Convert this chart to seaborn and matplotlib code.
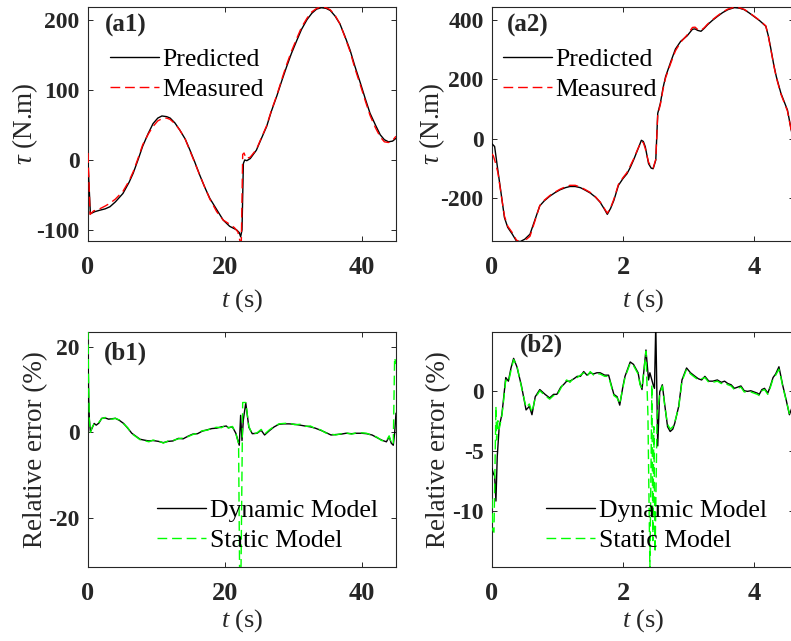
import numpy as np
import pandas as pd
import matplotlib
matplotlib.use("Agg")
import matplotlib.pyplot as plt
import seaborn as sns
from matplotlib.lines import Line2D

# ---------------- data ----------------
# (a1) torque, joint 1
a1_pred_t = [0.0, 0.35, 1.0, 1.7, 2.5, 3.2, 4.0, 5.1, 6.0, 6.6, 7.3, 8.0, 8.8, 9.5, 10.2, 10.8,
             11.5, 12.0, 12.7, 13.4, 14.2, 14.9, 15.6, 16.3, 17.1, 17.8, 18.8, 19.75, 20.7, 21.7,
             22.1, 22.3, 22.5, 22.7, 22.9, 23.2, 23.7, 24.6, 25.3, 26.1, 26.8, 27.6, 28.3, 29.0,
             29.7, 30.5, 31.2, 32.0, 32.7, 33.4, 34.1, 34.8, 35.4, 36.1, 36.8, 37.5, 38.3, 39.0,
             39.8, 40.5, 41.2, 42.0, 42.7, 43.3, 43.9, 44.5, 45.0]
a1_pred_v = [-5, -77, -74, -72, -70, -67, -60, -48, -32, -19, 0, 20, 38, 52, 60, 63,
             62, 60, 53, 43, 30, 14, -3, -21, -40, -55, -71, -86, -95, -100,
             -104, -110, -100, -5, 0, -1, 2, 14, 30, 48, 70, 92, 113, 133,
             152, 171, 187, 201, 210, 216, 218, 217, 214, 206, 195, 178, 157, 134,
             110, 88, 67, 50, 36, 29, 26, 27, 31]
a1_meas_t = [0.0, 0.3, 0.8, 1.7, 2.5, 3.2, 4.0, 5.1, 6.0, 6.6, 7.3, 8.0, 8.8, 9.5, 10.2, 10.8,
             11.5, 12.0, 12.7, 13.4, 14.2, 14.9, 15.6, 16.3, 17.1, 17.8, 18.8, 19.75, 20.7, 21.4,
             21.9, 22.2, 22.4, 22.6, 22.8, 23.1, 23.7, 24.6, 25.3, 26.1, 26.8, 27.6, 28.3, 29.0,
             29.7, 30.5, 31.2, 32.0, 32.7, 33.4, 34.1, 34.8, 35.4, 36.1, 36.8, 37.5, 38.3, 39.0,
             39.8, 40.5, 41.2, 42.0, 42.7, 43.3, 43.9, 44.5, 45.0]
a1_meas_v = [10, -78, -73, -70, -66, -62, -56, -45, -30, -17, 2, 22, 37, 48, 56, 59,
             60, 58, 52, 43, 30, 13, -4, -21, -40, -56, -74, -86, -92, -97,
             -103, -116, -118, 8, 10, 2, 4, 15, 31, 49, 71, 93, 115, 136,
             155, 174, 190, 203, 212, 217, 219, 218, 215, 207, 195, 177, 155, 131,
             107, 85, 64, 46, 33, 26, 25, 28, 34]

# (a2) torque, joint 2
a2_pred_t = [0.0, 0.04, 0.09, 0.14, 0.19, 0.24, 0.31, 0.37, 0.43, 0.5, 0.58, 0.65, 0.73, 0.8, 0.88,
             0.96, 1.04, 1.12, 1.19, 1.27, 1.35, 1.42, 1.5, 1.58, 1.65, 1.72, 1.76, 1.81, 1.86, 1.93,
             2.0, 2.06, 2.11, 2.16, 2.22, 2.28, 2.31, 2.34, 2.39, 2.43, 2.46, 2.5, 2.53, 2.57, 2.61,
             2.65, 2.73, 2.8, 2.88, 2.98, 3.06, 3.1, 3.14, 3.19, 3.24, 3.29, 3.36, 3.44, 3.52, 3.6,
             3.7, 3.78, 3.85, 3.92, 4.0, 4.09, 4.18, 4.22, 4.26, 4.3, 4.34, 4.41, 4.51, 4.58, 4.61]
a2_pred_v = [-18, -27, -108, -187, -267, -300, -323, -345, -348, -340, -323, -278, -227, -210, -195,
             -183, -173, -166, -162, -162, -166, -174, -184, -198, -215, -240, -256, -236, -209, -158,
             -135, -119, -98, -73, -40, -6, -10, -28, -85, -100, -102, -73, 85, 119, 170,
             209, 260, 302, 328, 347, 369, 370, 365, 362, 372, 384, 398, 412, 425, 435,
             442, 440, 435, 425, 412, 397, 379, 345, 299, 250, 209, 153, 96, 15, -5]
a2_meas_t = [0.0, 0.02, 0.05, 0.09, 0.14, 0.19, 0.24, 0.31, 0.37, 0.43, 0.5, 0.58, 0.65, 0.73, 0.8,
             0.88, 0.96, 1.04, 1.12, 1.19, 1.27, 1.35, 1.42, 1.5, 1.58, 1.65, 1.72, 1.76, 1.81, 1.86,
             1.93, 2.0, 2.06, 2.11, 2.16, 2.22, 2.28, 2.31, 2.34, 2.39, 2.43, 2.46, 2.5, 2.53, 2.57,
             2.61, 2.65, 2.73, 2.8, 2.88, 2.98, 3.06, 3.1, 3.14, 3.19, 3.24, 3.29, 3.36, 3.44, 3.52,
             3.6, 3.7, 3.78, 3.85, 3.92, 4.0, 4.09, 4.18, 4.22, 4.26, 4.3, 4.34, 4.41, 4.51, 4.58, 4.61]
a2_meas_v = [-52, -58, -80, -115, -190, -262, -296, -318, -342, -352, -345, -330, -282, -226, -208,
             -193, -181, -171, -163, -158, -158, -164, -172, -182, -197, -214, -238, -252, -234, -205,
             -155, -132, -115, -93, -70, -38, -10, -14, -34, -80, -96, -100, -70, 80, 115,
             165, 205, 255, 296, 325, 350, 375, 376, 368, 365, 374, 386, 400, 414, 427,
             437, 443, 441, 436, 426, 413, 398, 380, 343, 296, 248, 206, 150, 93, 13, -7]

# (b1) relative error, joint 1
b1_dyn_t = [0.0, 0.1, 0.2, 0.35, 0.6, 0.9, 1.2, 1.6, 2.0, 2.5, 3.0, 3.5, 4.0, 4.6, 5.2, 5.8, 6.4,
            7.0, 7.6, 8.2, 8.9, 9.5, 10.3, 11.0, 11.7, 12.4, 13.2, 13.9, 14.6, 15.3, 16.0, 16.7,
            17.4, 18.1, 18.8, 19.5, 20.2, 20.5, 21.1, 21.6, 22.1, 22.3, 22.5, 22.7, 23.05, 23.5,
            24.0, 24.7, 25.3, 25.8, 26.5, 27.2, 27.9, 28.6, 29.4, 30.2, 31.0, 31.7, 32.5, 33.2,
            34.0, 34.7, 35.5, 36.2, 37.0, 37.7, 38.5, 39.2, 40.0, 40.7, 41.5, 42.2, 42.9, 43.6,
            44.0, 44.3, 44.6, 44.8, 45.0]
b1_dyn_v = [18.0, 8.0, 2.9, 0.2, 1.0, 2.1, 1.7, 2.2, 3.3, 3.4, 3.1, 3.2, 3.3, 2.8, 2.1, 1.0, -0.2,
            -0.9, -1.6, -1.8, -2.0, -1.9, -2.1, -2.4, -2.1, -2.0, -1.4, -1.5, -0.9, -0.4, -0.3, 0.3,
            0.6, 0.9, 1.0, 1.3, 1.5, 1.1, 1.3, -0.2, -3.0, 4.0, -1.9, 3.0, 6.9, 1.2,
            -0.3, -0.2, 0.5, -0.6, 0.4, 1.3, 1.9, 2.0, 2.0, 1.9, 1.7, 1.5, 1.3, 1.0,
            0.5, 0.0, -0.6, -0.5, -0.4, -0.2, -0.3, -0.2, -0.2, -0.3, -0.6, -1.2, -1.8, -2.2,
            -1.0, -2.5, -3.0, -0.2, 4.5]
b1_sta_t = [0.0, 0.1, 0.2, 0.35, 0.6, 0.9, 1.2, 1.6, 2.0, 2.5, 3.0, 3.5, 4.0, 4.6, 5.2, 5.8, 6.4,
            7.0, 7.6, 8.2, 8.9, 9.5, 10.3, 11.0, 11.7, 12.4, 13.2, 13.9, 14.6, 15.3, 16.0, 16.7,
            17.4, 18.1, 18.8, 19.5, 20.2, 20.5, 21.1, 21.6, 22.0, 22.15, 22.35, 22.6, 23.05, 23.5,
            24.0, 24.7, 25.3, 25.8, 26.5, 27.2, 27.9, 28.6, 29.4, 30.2, 31.0, 31.7, 32.5, 33.2,
            34.0, 34.7, 35.5, 36.2, 37.0, 37.7, 38.5, 39.2, 40.0, 40.7, 41.5, 42.2, 42.9, 43.6,
            44.0, 44.3, 44.6, 44.8, 45.0]
b1_sta_v = [24.0, 10.0, 3.0, 0.0, 1.2, 2.0, 1.9, 2.4, 3.2, 3.5, 3.2, 3.1, 3.3, 2.9, 2.0, 1.1, -0.3,
            -1.0, -1.7, -1.9, -2.2, -1.8, -2.0, -2.5, -2.0, -1.9, -1.5, -1.3, -1.0, -0.5, -0.2, 0.4,
            0.5, 1.0, 1.2, 1.1, 1.8, 1.0, 1.4, -0.3, -2.6, -33.0, -33.0, 7.0, 7.0, 1.4,
            -0.4, -0.1, 0.7, -0.4, 0.6, 1.4, 2.0, 2.1, 2.2, 1.8, 1.9, 1.4, 1.5, 0.9,
            0.6, -0.1, -0.4, -0.6, -0.3, -0.1, -0.4, -0.1, -0.1, -0.2, -0.7, -1.1, -1.9, -2.0,
            -0.8, -2.4, -2.8, 17.5, 16.0]

# (b2) relative error, joint 2
b2_dyn_t = [0.0, 0.02, 0.04, 0.06, 0.08, 0.11, 0.15, 0.17, 0.21, 0.25, 0.29, 0.33, 0.38, 0.45,
            0.52, 0.57, 0.61, 0.66, 0.73, 0.81, 0.88, 0.94, 0.99, 1.05, 1.09, 1.14, 1.19, 1.25,
            1.3, 1.35, 1.4, 1.45, 1.5, 1.55, 1.6, 1.65, 1.72, 1.78, 1.82, 1.86, 1.91, 1.95, 2.0,
            2.03, 2.07, 2.11, 2.16, 2.21, 2.23, 2.26, 2.29, 2.35, 2.39, 2.41, 2.44, 2.46, 2.48,
            2.5, 2.53, 2.56, 2.6, 2.64, 2.68, 2.72, 2.76, 2.79, 2.85, 2.9, 2.97, 3.03, 3.1, 3.15,
            3.2, 3.25, 3.31, 3.37, 3.44, 3.5, 3.55, 3.6, 3.65, 3.7, 3.75, 3.8, 3.85, 3.9, 3.95,
            4.0, 4.05, 4.08, 4.12, 4.16, 4.21, 4.25, 4.29, 4.33, 4.38, 4.41, 4.44, 4.49, 4.54,
            4.58, 4.61]
b2_dyn_v = [-6.5, -6.9, -7.1, -9.2, -5.5, -3.0, -2.0, -1.0, 1.1, 0.8, 1.9, 2.7, 2.0, 0.4,
            -1.6, -1.3, -2.0, -0.5, 0.1, -0.3, -0.6, -0.3, -0.3, 0.3, 0.5, 0.8, 0.8, 1.0,
            1.2, 1.2, 1.6, 1.3, 1.5, 1.4, 1.5, 1.5, 1.3, 1.3, 0.5, -0.3, -0.5, -1.2, 0.4,
            1.2, 1.8, 2.4, 2.2, 1.7, 1.5, 0.6, 0.1, 3.4, 0.9, 1.5, 0.9, 0.5, 0.2,
            5.5, -4.6, -0.1, 0.5, -1.3, -3.0, -3.4, -3.2, -2.7, -1.3, 0.9, 1.9, 1.5, 1.2, 1.0,
            0.9, 1.2, 0.8, 0.8, 0.9, 0.7, 0.8, 0.6, 0.5, 0.2, 0.3, 0.4, 0.0, -0.05, 0.0,
            -0.1, -0.2, -0.3, 0.1, 0.2, -0.2, 0.4, 1.1, 1.4, 2.0, 1.2, 0.4, -0.75, -2.0,
            -1.4, -1.6]
b2_sta_t = [0.0, 0.01, 0.03, 0.06, 0.07, 0.09, 0.11, 0.15, 0.17, 0.21, 0.25, 0.29, 0.33, 0.38, 0.45,
            0.52, 0.57, 0.61, 0.66, 0.73, 0.81, 0.88, 0.94, 0.99, 1.05, 1.09, 1.14, 1.19, 1.25,
            1.3, 1.35, 1.4, 1.45, 1.5, 1.55, 1.6, 1.65, 1.72, 1.78, 1.82, 1.86, 1.91, 1.95, 2.0,
            2.03, 2.07, 2.11, 2.16, 2.21, 2.23, 2.26, 2.29, 2.35, 2.38, 2.41, 2.43, 2.44, 2.455,
            2.47, 2.49, 2.52, 2.56, 2.6, 2.64, 2.68, 2.72, 2.76, 2.79, 2.85, 2.9, 2.97, 3.03, 3.1,
            3.15, 3.2, 3.25, 3.31, 3.37, 3.44, 3.5, 3.55, 3.6, 3.65, 3.7, 3.75, 3.8, 3.85, 3.9,
            3.95, 4.0, 4.05, 4.08, 4.12, 4.16, 4.21, 4.25, 4.29, 4.33, 4.38, 4.41, 4.44, 4.49,
            4.54, 4.58, 4.61]
b2_sta_v = [-9.0, -11.6, -11.8, -1.3, -4.1, -2.5, -3.2, -2.1, -1.2, 0.9, 0.7, 1.7, 2.6, 2.1, 0.3,
            -1.4, -1.1, -1.8, -0.6, 0.0, -0.4, -0.7, -0.4, -0.4, 0.2, 0.6, 0.9, 0.7, 1.1,
            1.1, 1.3, 1.5, 1.2, 1.6, 1.3, 1.4, 1.4, 1.2, 1.2, 0.4, -0.4, -0.6, -1.1, 0.3,
            1.1, 1.7, 2.3, 2.1, 1.6, 1.4, 0.5, 0.2, 3.3, -2.0, -14.8, -5.0, 0.5, -12.5,
            -3.0, -13.5, -2.0, -0.3, 0.4, -1.4, -2.8, -3.2, -3.0, -2.6, -1.4, 0.8, 1.8, 1.4, 1.1,
            0.9, 1.0, 1.1, 0.7, 0.7, 0.8, 0.6, 0.7, 0.5, 0.4, 0.1, 0.2, 0.3, -0.1, -0.1,
            -0.1, -0.2, -0.3, -0.4, 0.0, 0.1, -0.3, 0.3, 1.0, 1.3, 1.8, 1.1, 0.3, -0.8,
            -1.9, -1.5, -1.6]

panel_labels = ["(a1)", "(a2)", "(b1)", "(b2)"]
legend_a = ["Predicted", "Measured"]
legend_b = ["Dynamic Model", "Static Model"]
a1_xticks, a1_yticks = [0, 20, 40], [-100, 0, 100, 200]
a2_xticks, a2_yticks = [0, 2, 4], [-200, 0, 200, 400]
b1_xticks, b1_yticks = [0, 20, 40], [-20, 0, 20]
b2_xticks, b2_yticks = [0, 2, 4], [-10, -5, 0]

# ---------------- style ----------------
sns.set_style("white")
plt.rcParams['font.family'] = ['Liberation Serif', 'DejaVu Serif']
plt.rcParams['mathtext.fontset'] = 'custom'
plt.rcParams['mathtext.rm'] = 'Liberation Serif'
plt.rcParams['mathtext.it'] = 'Liberation Serif:italic'
plt.rcParams['axes.unicode_minus'] = False

TXT = '#262626'
W, H = 791, 641
fig = plt.figure(figsize=(W / 100, H / 100), dpi=100)


def px_axes(x0, x1, ytop, ybot):
    return fig.add_axes([x0 / W, 1 - ybot / H, (x1 - x0) / W, (ybot - ytop) / H])


ax_a1 = px_axes(88, 396, 7, 241)
ax_a2 = px_axes(492, 794, 7, 241)
ax_b1 = px_axes(88, 396, 332, 567)
ax_b2 = px_axes(492, 794, 332, 567)


def draw(ax, t1, v1, c1, t2, v2, c2):
    d1 = pd.DataFrame({'t': t1, 'v': v1})
    d2 = pd.DataFrame({'t': t2, 'v': v2})
    sns.lineplot(data=d1, x='t', y='v', ax=ax, color=c1, estimator=None, sort=False,
                 lw=1.0, zorder=3)
    sns.lineplot(data=d2, x='t', y='v', ax=ax, color=c2, estimator=None, sort=False,
                 lw=1.0, zorder=4)
    ax.lines[-1].set_dashes((7, 3.5))


draw(ax_a1, a1_pred_t, a1_pred_v, 'black', a1_meas_t, a1_meas_v, '#ff0000')
draw(ax_a2, a2_pred_t, a2_pred_v, 'black', a2_meas_t, a2_meas_v, '#ff0000')
draw(ax_b1, b1_dyn_t, b1_dyn_v, 'black', b1_sta_t, b1_sta_v, '#00ff00')
draw(ax_b2, b2_dyn_t, b2_dyn_v, 'black', b2_sta_t, b2_sta_v, '#00ff00')

cfg = [
    (ax_a1, (0, 45), (-116, 219), a1_xticks, a1_yticks, r'$\tau$ (N.m)', -0.157, -0.197),
    (ax_a2, (0, 4.61), (-346, 444), a2_xticks, a2_yticks, r'$\tau$ (N.m)', -0.15, -0.197),
    (ax_b1, (0, 45), (-31.5, 23.5), b1_xticks, b1_yticks, 'Relative error (%)', -0.13, -0.17),
    (ax_b2, (0, 4.61), (-14.7, 4.9), b2_xticks, b2_yticks, 'Relative error (%)', -0.136, -0.17),
]
for ax, xl, yl, xt, yt, ylab, ylx, xly in cfg:
    ax.set_xlim(*xl)
    ax.set_ylim(*yl)
    ax.set_xticks(xt)
    ax.set_yticks(yt)
    ax.set_xticklabels([str(v) for v in xt], fontsize=19, fontweight='bold', color=TXT)
    ax.set_yticklabels([str(v) for v in yt], fontsize=17, fontweight='bold', color=TXT)
    ax.tick_params(direction='in', length=3.5, width=0.7, color=TXT,
                   top=True, right=True, bottom=True, left=True)
    ax.tick_params(axis='x', pad=11)
    ax.tick_params(axis='y', pad=6)
    for s in ax.spines.values():
        s.set_visible(True)
        s.set_color(TXT)
        s.set_linewidth(0.8)
    ax.set_xlabel(r'$t$ (s)', fontsize=19, color=TXT)
    ax.set_ylabel(ylab, fontsize=19.5, color=TXT)
    ax.yaxis.set_label_coords(ylx, 0.5)
    ax.xaxis.set_label_coords(0.5, xly)
    ax.set_facecolor('white')

# panel labels
for ax, lab, (x, y) in zip([ax_a1, ax_a2, ax_b1, ax_b2], panel_labels,
                           [(0.055, 0.923), (0.05, 0.923), (0.052, 0.911), (0.093, 0.945)]):
    ax.text(x, y, lab, transform=ax.transAxes, fontsize=18, fontweight='bold',
            ha='left', va='center', color=TXT)


# legends
def make_legend(ax, labels, c2, anchor):
    h = [Line2D([], [], color='black', lw=1.0),
         Line2D([], [], color=c2, lw=1.0, dashes=(7, 3.5))]
    ax.legend(h, labels, loc='upper left', bbox_to_anchor=anchor, frameon=False,
              fontsize=18.5, handlelength=1.9, handletextpad=0.15, labelspacing=0.28,
              borderpad=0, borderaxespad=0, labelcolor='black')


make_legend(ax_a1, legend_a, '#ff0000', (0.0714, 0.824))
make_legend(ax_a2, legend_a, '#ff0000', (0.036, 0.824))
make_legend(ax_b1, legend_b, '#00ff00', (0.224, 0.288))
make_legend(ax_b2, legend_b, '#00ff00', (0.179, 0.288))

fig.savefig('out.png', dpi=100, facecolor='white')
